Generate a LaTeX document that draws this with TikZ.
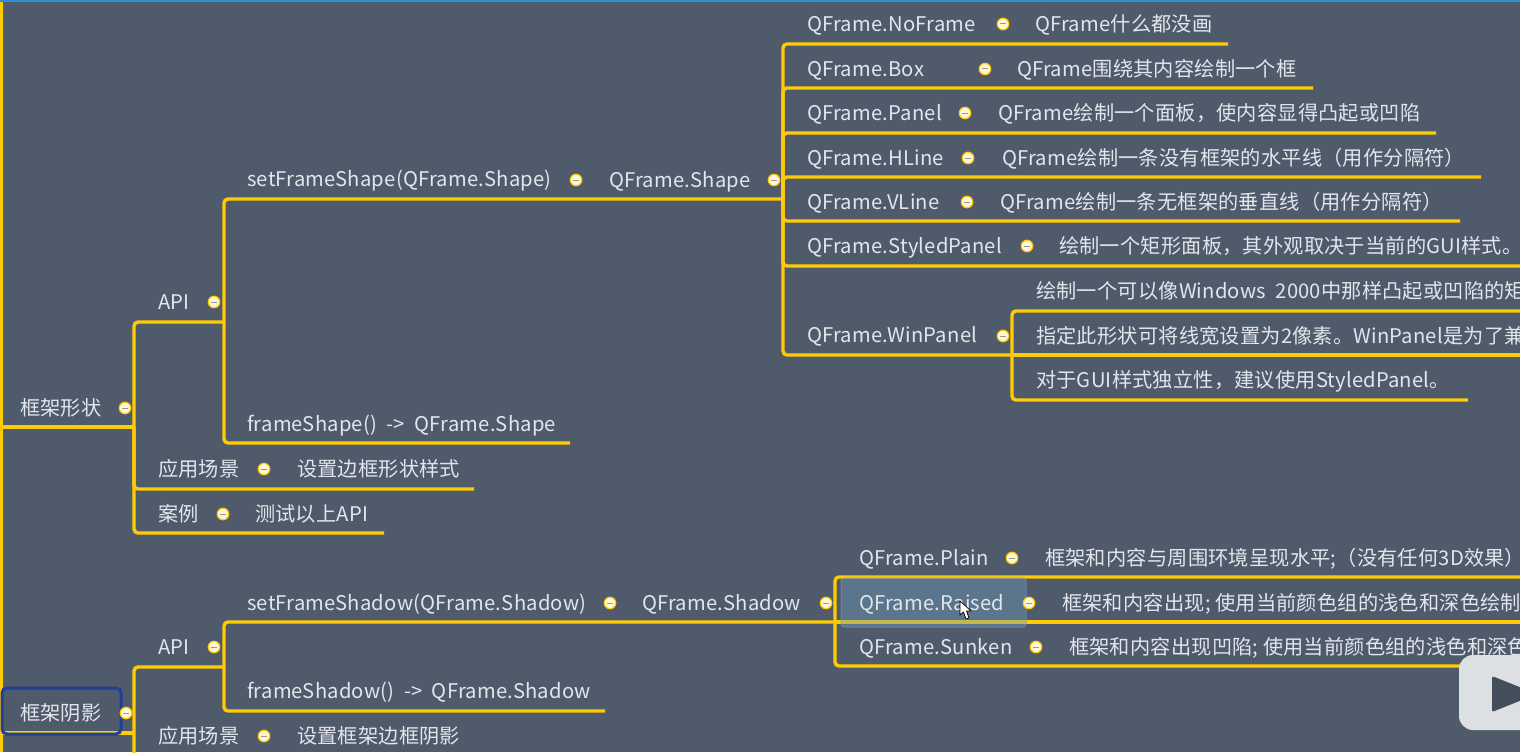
\documentclass[tikz,border=0pt]{standalone}
\usepackage{fontspec}
\setmainfont[LetterSpace=1]{Noto Sans CJK SC}
\definecolor{bgc}{HTML}{4F5B6B}
\definecolor{linec}{HTML}{FFCB05}
\definecolor{txtc}{HTML}{E2E6EC}
\definecolor{stripc}{HTML}{2D8FD5}
\definecolor{selc}{HTML}{6F9DBF}
\definecolor{focusc}{HTML}{1E3F9C}
\definecolor{playc}{HTML}{DDE0E3}
\definecolor{dotc}{HTML}{FFF8D8}
\newcommand{\widesp}{\hspace{9.5pt}}
\tikzset{
  x=1pt,y=-1pt,
  lbl/.style={anchor=base west,inner sep=0pt,yshift=-0.8pt,text=txtc,font=\fontsize{20.2}{24}\selectfont},
  branch/.style={draw=linec,line width=3.4pt,rounded corners=4pt},
  dotn/.style={circle,draw=linec,fill=dotc,line width=1.2pt,minimum size=11.5pt,inner sep=0pt,
    path picture={\draw[gray!80,line width=1pt] ([xshift=-3pt]path picture bounding box.center) -- ([xshift=3pt]path picture bounding box.center);}},
}
\begin{document}
\begin{tikzpicture}
\path[use as bounding box,fill=bgc] (0,0) rectangle (1520,752);
\clip (0,0) rectangle (1520,752);

% free ends and junctions
\coordinate (top) at (1.3,0);
\coordinate (bot) at (1.3,752);
\coordinate (rootA) at (1.3,427);
\coordinate (rootB) at (1.3,733);
\coordinate (jA) at (134,427);
\coordinate (jB) at (134,733);
\coordinate (jApiA) at (224,322);
\coordinate (jApiB) at (224,667);
\coordinate (jShape) at (783,199);
\coordinate (jShadow) at (835,622);
\coordinate (jWin) at (1012,355);
\coordinate (eApiA) at (224,322);
\coordinate (eSetA) at (783,199);
\coordinate (eGetA) at (570,443);
\coordinate (eSceneA) at (474,489);
\coordinate (eCase) at (384,533);
\coordinate (eNo) at (1228,44);
\coordinate (eBox) at (1313,88);
\coordinate (ePanel) at (1436,133);
\coordinate (eH) at (1481,177);
\coordinate (eV) at (1460,221);
\coordinate (eStyled) at (1520,266);
\coordinate (eWin) at (1012,355);
\coordinate (eWinA) at (1520,311);
\coordinate (eWinB) at (1520,355);
\coordinate (eWinC) at (1468,400);
\coordinate (eSetB) at (835,622);
\coordinate (eGetB) at (605,711);
\coordinate (eSceneB) at (520,760);
\coordinate (ePlain) at (1520,577);
\coordinate (eRaised) at (1520,622);
\coordinate (eSunken) at (1520,666);
\coordinate (stripA) at (0,0);
\coordinate (stripB) at (1520,2.2);

% connectors
\draw[draw=linec,line width=2.6pt] (top) -- (bot);
\draw[branch] (rootA) -- (jA);
\draw[branch] (rootB) -- (jB);
\draw[branch] (jA) |- (eApiA);
\draw[branch] (jA) |- (eSceneA);
\draw[branch] (jA) |- (eCase);
\draw[branch] (jApiA) |- (eSetA);
\draw[branch] (jApiA) |- (eGetA);
\draw[branch] (jShape) |- (eNo);
\draw[branch] (jShape) |- (eBox);
\draw[branch] (jShape) |- (ePanel);
\draw[branch] (jShape) |- (eH);
\draw[branch] (jShape) |- (eV);
\draw[branch] (jShape) |- (eStyled);
\draw[branch] (jShape) |- (eWin);
\draw[branch] (jWin) |- (eWinA);
\draw[branch] (jWin) -- (eWinB);
\draw[branch] (jWin) |- (eWinC);
\draw[branch] (jB) |- (jApiB);
\draw[branch] (jB) |- (eSceneB);
\draw[branch] (jApiB) |- (eSetB);
\draw[branch] (jApiB) |- (eGetB);
\draw[branch] (jShadow) |- (ePlain);
\draw[branch] (jShadow) -- (eRaised);
\draw[branch] (jShadow) |- (eSunken);

% top window edge
\fill[stripc] (stripA) rectangle (stripB);

% highlight of the selected topic
\fill[selc,opacity=.4,rounded corners=3pt] (841,578) rectangle (1026,627);
\draw[selc,opacity=.6,line width=1pt,rounded corners=3pt] (841,578) rectangle (1026,627);
% focus frame
\draw[focusc,line width=3pt,rounded corners=5pt] (2,688) rectangle (121,734);

% labels
\node[lbl] (tA) at (20,415) {框架形状};
\node[lbl] (tB) at (20,720) {框架阴影};
\node[lbl] (apiA) at (158,309) {API};
\node[lbl] (sceneA) at (158,476) {应用场景};
\node[lbl] (sceneAt) at (297,476) {设置边框形状样式};
\node[lbl] (caseA) at (158,521) {案例};
\node[lbl] (caseAt) at (255,521) {测试以上API};
\node[lbl] (setA) at (247,186) {setFrameShape(QFrame.Shape)};
\node[lbl] (getA) at (247,431) {frameShape()\widesp->\widesp QFrame.Shape};
\node[lbl] (shapeT) at (609,187) {QFrame.Shape};
\node[lbl] (no) at (807,31) {QFrame.NoFrame};
\node[lbl] (not) at (1035,31) {QFrame什么都没画};
\node[lbl] (box) at (807,76) {QFrame.Box};
\node[lbl] (boxt) at (1017,76) {QFrame围绕其内容绘制一个框};
\node[lbl] (panel) at (807,120) {QFrame.Panel};
\node[lbl] (panelt) at (998,120) {QFrame绘制一个面板，使内容显得凸起或凹陷};
\node[lbl] (hl) at (807,165) {QFrame.HLine};
\node[lbl] (hlt) at (1002,165) {QFrame绘制一条没有框架的水平线（用作分隔符）};
\node[lbl] (vl) at (807,209) {QFrame.VLine};
\node[lbl] (vlt) at (1000,209) {QFrame绘制一条无框架的垂直线（用作分隔符）};
\node[lbl] (st) at (807,253) {QFrame.StyledPanel};
\node[lbl] (stt) at (1059,253) {绘制一个矩形面板，其外观取决于当前的GUI样式。};
\node[lbl] (win) at (807,342) {QFrame.WinPanel};
\node[lbl] (wina) at (1036,298) {绘制一个可以像Windows\widesp 2000中那样凸起或凹陷的矩};
\node[lbl] (winb) at (1036,343) {指定此形状可将线宽设置为2像素。WinPanel是为了兼};
\node[lbl] (winc) at (1036,387) {对于GUI样式独立性，建议使用StyledPanel。};
\node[lbl] (apiB) at (158,654) {API};
\node[lbl] (setB) at (247,610) {setFrameShadow(QFrame.Shadow)};
\node[lbl] (getB) at (247,698) {frameShadow()\widesp->\widesp QFrame.Shadow};
\node[lbl] (shadowT) at (642,610) {QFrame.Shadow};
\node[lbl] (plain) at (859,565) {QFrame.Plain};
\node[lbl] (plaint) at (1045,565) {框架和内容与周围环境呈现水平;（没有任何3D效果）};
\node[lbl] (raised) at (859,610) {QFrame.Raised};
\node[lbl] (raisedt) at (1062,610) {框架和内容出现; 使用当前颜色组的浅色和深色绘制};
\node[lbl] (sunken) at (859,654) {QFrame.Sunken};
\node[lbl] (sunkent) at (1069,654) {框架和内容出现凹陷; 使用当前颜色组的浅色和深色};
\node[lbl] (sceneB) at (158,743) {应用场景};
\node[lbl] (sceneBt) at (297,743) {设置框架边框阴影};

% collapse markers
\foreach \n/\x/\y in {a/125/408,b/126/713,c/214/302,d/264/469,e/223/514,f/576/180,g/774/180,
  h/1003/24,i/985/69,j/965/113,k/968/158,l/967/202,m/1027/246,n/1003/336,
  o/214/647,p/610/603,q/826/603,r/1012/558,s/1029/603,t/1036/647,u/264/736}
  \node[dotn] (dot\n) at (\x,\y) {};

% pointer
\draw[black,fill=white,line width=.7pt,line join=round] (960,601) -- (960,615) -- (963.5,612) -- (966,619) -- (969,618) -- (966.5,611) -- (971,611) -- cycle;

% player button
\fill[playc,rounded corners=14pt] (1459,655) rectangle (1560,730);
\fill[bgc!85!black,rounded corners=2pt] (1492,676) -- (1492,712) -- (1522,700) -- (1522,688) -- cycle;
\end{tikzpicture}
\end{document}
